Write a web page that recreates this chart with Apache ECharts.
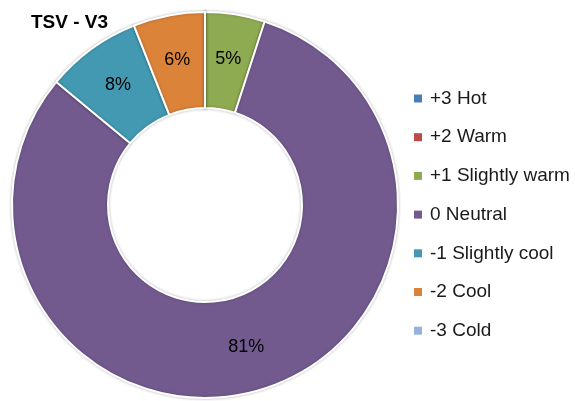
<!DOCTYPE html>
<html>
<head>
<meta charset="utf-8">
<style>
  html, body { margin: 0; padding: 0; background: #fff; }
  #chart { width: 575px; height: 401px; }
</style>
</head>
<body>
<div id="chart"></div>
<script src="https://cdn.jsdelivr.net/npm/echarts@6/dist/echarts.min.js"></script>
<script>
const categories = ['+3 Hot', '+2 Warm', '+1 Slightly warm', '0 Neutral', '-1 Slightly cool', '-2 Cool', '-3 Cold'];
const shares = [0, 0, 5, 81, 8, 6, 0];
const colors = ['#4A7EBB', '#BE4B48', '#8FAB52', '#725A8F', '#4399B1', '#DB8339', '#95B3D7'];

const chart = echarts.init(document.getElementById('chart'));

const option = {
  animation: false,
  title: {
    text: 'TSV - V3',
    left: 26,
    top: 8,
    textStyle: { fontFamily: 'Liberation Sans', fontWeight: 'bold', fontSize: 19, color: '#000' }
  },
  legend: {
    orient: 'vertical',
    left: 409,
    top: 84,
    itemWidth: 8,
    itemHeight: 8,
    itemGap: 19.7,
    icon: 'rect',
    itemStyle: { borderWidth: 0, shadowBlur: 0 },
    data: categories,
    textStyle: { fontFamily: 'Liberation Sans', fontSize: 19, color: '#1a1a1a', padding: [0, 0, 0, 3] }
  },
  series: [{
    type: 'pie',
    center: [205, 205],
    radius: [97, 193],
    startAngle: 90,
    clockwise: true,
    avoidLabelOverlap: false,
    itemStyle: {
      borderColor: '#fff',
      borderWidth: 2,
      shadowBlur: 3,
      shadowColor: 'rgba(0,0,0,0.25)'
    },
    label: {
      show: true,
      position: 'inside',
      formatter: (p) => p.value > 0 ? p.value + '%' : '',
      fontFamily: 'Liberation Sans',
      fontSize: 18,
      color: '#000'
    },
    labelLine: { show: false },
    data: categories.map((name, i) => ({
      name: name,
      value: shares[i],
      itemStyle: { color: colors[i] }
    }))
  }]
};

chart.setOption(option);
</script>
</body>
</html>
